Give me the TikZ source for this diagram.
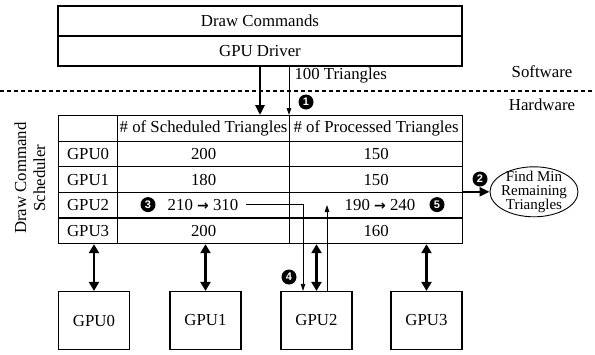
\documentclass[tikz,border=0pt]{standalone}
\usepackage{fontspec}
\setmainfont{Liberation Serif}
\newfontfamily\numfont{Liberation Sans}
\newfontfamily\arrfont{DejaVu Sans}
\usetikzlibrary{arrows.meta,shapes.geometric}
\begin{document}
\begin{tikzpicture}[x=1pt,y=-1pt,
  every node/.style={font=\fontsize{16.8}{18}\selectfont},
  cell/.style={draw, line width=1.2pt, inner sep=0pt, minimum height=25.6pt, anchor=north west},
  cA/.style={cell, minimum width=59pt},
  cB/.style={cell, minimum width=172pt},
  cC/.style={cell, minimum width=173pt},
  topbox/.style={draw, line width=1.2pt, minimum width=404pt, minimum height=30pt, inner sep=0pt},
  gbox/.style={draw, line width=1.2pt, minimum width=71pt, minimum height=58pt, inner sep=0pt},
  numc/.style={circle, fill=black, text=white, inner sep=0pt, minimum size=15pt, font=\numfont\bfseries\fontsize{11}{11}\selectfont},
  thickarr/.style={line width=2.6pt, -{Triangle[length=10pt,width=9pt]}},
  dblarr/.style={line width=2.6pt, {Triangle[length=9pt,width=10pt]}-{Triangle[length=9pt,width=10pt]}},
  thinarr/.style={line width=0.8pt, -{Triangle[length=7pt,width=4.5pt]}}
]
\useasboundingbox (0,0) rectangle (595,354);

% software boxes
\node[topbox] (dc) at (260,21) {Draw Commands};
\node[topbox] (drv) at (260,51) {GPU Driver};

% divider
\coordinate (dl) at (0,91);
\coordinate (dr) at (595,91);
\draw[line width=1.3pt, dash pattern=on 4pt off 3pt] (dl) -- (dr);
\node (sw) at (542,72) {Software};
\node (hw) at (542,105) {Hardware};

% table
\node[cA] (h0) at (58,115) {};
\node[cB] (h1) at (117,115) {\# of Scheduled Triangles};
\node[cC] (h2) at (289,115) {\# of Processed Triangles};
\node[cA] (r0c0) at (58,140.6) {GPU0};
\node[cB] (r0c1) at (117,140.6) {200};
\node[cC] (r0c2) at (289,140.6) {150};
\node[cA] (r1c0) at (58,166.2) {GPU1};
\node[cB] (r1c1) at (117,166.2) {180};
\node[cC] (r1c2) at (289,166.2) {150};
\node[cA] (r2c0) at (58,191.8) {GPU2};
\node[cB] (r2c1) at (117,191.8) {};
\node[cC] (r2c2) at (289,191.8) {};
\node[cA] (r3c0) at (58,217.4) {GPU3};
\node[cB] (r3c1) at (117,217.4) {200};
\node[cC] (r3c2) at (289,217.4) {160};

\node (t3) at (203,204.6) {210 {\arrfont\bfseries\fontsize{14}{14}\selectfont →} 310};
\node (t5) at (380,204.6) {190 {\arrfont\bfseries\fontsize{14}{14}\selectfont →} 240};
\node[numc] (n3) at (148,204.6) {3};
\node[numc] (n5) at (437,204.6) {5};

\node[rotate=90, align=center, font=\fontsize{16.8}{19}\selectfont] (dcs) at (30,178) {Draw Command\\Scheduler};

% driver arrows
\draw[thickarr] (drv.south) -- (drv.south |- h1.north);
\draw[thinarr] (drv.south -| h2.north west) -- (h2.north west);
\node[anchor=west] (tri) at (291,75) {100 Triangles};
\node[numc] (n1) at (306,102) {1};

% ellipse
\node[draw, ellipse, line width=0.9pt, minimum width=88pt, minimum height=50pt, inner sep=0pt] (ell) at (534,191.8) {};
\node[align=center, inner sep=0pt, font=\fontsize{15}{14}\selectfont] (ellt) at (ell.center) {Find Min\\Remaining\\Triangles};
\draw[thickarr] (r2c2.north east) -- (ell.west);
\node[numc] (n2) at (480,179) {2};

% GPUs
\node[gbox] (g0) at (94,320.5) {GPU0};
\node[gbox] (g1) at (205.5,320.5) {GPU1};
\node[gbox] (g2) at (316.5,320.5) {GPU2};
\node[gbox] (g3) at (426.5,320.5) {GPU3};

\draw[dblarr] (g0.north) -- (g0.north |- r3c0.south);
\draw[dblarr] (g1.north) -- (g1.north |- r3c1.south);
\draw[dblarr] (g2.north) -- (g2.north |- r3c2.south);
\draw[dblarr] (g3.north) -- (g3.north |- r3c2.south);

\draw[thinarr] ([xshift=4pt]t3.east) -| ([xshift=-13.5pt]g2.north);
\coordinate (p5) at (327,205);
\draw[thinarr] ([xshift=10.5pt]g2.north) -- (p5);
\node[numc] (n4) at (289,277) {4};
\end{tikzpicture}
\end{document}
